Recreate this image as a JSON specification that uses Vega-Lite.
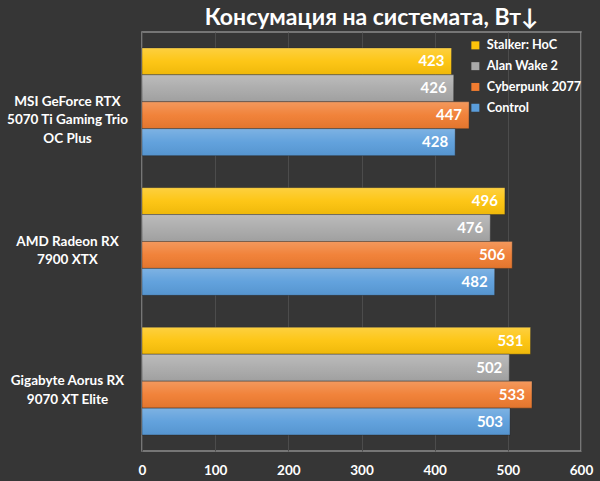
{
  "$schema": "https://vega.github.io/schema/vega-lite/v6.json",
  "width": 439,
  "height": 419,
  "autosize": {"type": "none"},
  "padding": {"left": 142, "top": 32, "right": 19, "bottom": 30},
  "background": "#363636",
  "title": {
    "text": "Консумация на системата, Вт↓",
    "font": "Lato",
    "fontSize": 23,
    "fontWeight": "bold",
    "color": "#ffffff",
    "anchor": "middle",
    "dx": 10,
    "offset": 2
  },
  "config": {
    "view": {"stroke": "#8c8c8c", "strokeWidth": 1.5},
    "font": "Lato"
  },
  "data": {
    "values": [
      {"gpu": "MSI GeForce RTX|5070 Ti Gaming Trio|OC Plus", "game": "Stalker: HoC", "value": 423},
      {"gpu": "MSI GeForce RTX|5070 Ti Gaming Trio|OC Plus", "game": "Alan Wake 2", "value": 426},
      {"gpu": "MSI GeForce RTX|5070 Ti Gaming Trio|OC Plus", "game": "Cyberpunk 2077", "value": 447},
      {"gpu": "MSI GeForce RTX|5070 Ti Gaming Trio|OC Plus", "game": "Control", "value": 428},
      {"gpu": "AMD Radeon RX|7900 XTX", "game": "Stalker: HoC", "value": 496},
      {"gpu": "AMD Radeon RX|7900 XTX", "game": "Alan Wake 2", "value": 476},
      {"gpu": "AMD Radeon RX|7900 XTX", "game": "Cyberpunk 2077", "value": 506},
      {"gpu": "AMD Radeon RX|7900 XTX", "game": "Control", "value": 482},
      {"gpu": "Gigabyte Aorus RX|9070 XT Elite", "game": "Stalker: HoC", "value": 531},
      {"gpu": "Gigabyte Aorus RX|9070 XT Elite", "game": "Alan Wake 2", "value": 502},
      {"gpu": "Gigabyte Aorus RX|9070 XT Elite", "game": "Cyberpunk 2077", "value": 533},
      {"gpu": "Gigabyte Aorus RX|9070 XT Elite", "game": "Control", "value": 503}
    ]
  },
  "encoding": {
    "y": {
      "field": "gpu",
      "type": "nominal",
      "sort": null,
      "scale": {"paddingInner": 0.229, "paddingOuter": 0.114},
      "axis": {
        "title": null,
        "domain": false,
        "ticks": false,
        "labelExpr": "split(datum.label, '|')",
        "labelAlign": "center",
        "labelBaseline": "middle",
        "labelPadding": 75,
        "labelLineHeight": 18.5,
        "labelFont": "Lato",
        "labelFontSize": 13.5,
        "labelFontWeight": "bold",
        "labelColor": "#ffffff"
      }
    },
    "yOffset": {
      "field": "game",
      "type": "nominal",
      "sort": ["Stalker: HoC", "Alan Wake 2", "Cyberpunk 2077", "Control"],
      "scale": {"paddingInner": 0, "paddingOuter": 0}
    },
    "x": {
      "field": "value",
      "type": "quantitative",
      "scale": {"domain": [0, 600], "nice": false},
      "axis": {
        "title": null,
        "values": [0, 100, 200, 300, 400, 500, 600],
        "domain": false,
        "ticks": false,
        "labelFlush": false,
        "labelPadding": 12,
        "labelFont": "Lato",
        "labelFontSize": 13.5,
        "labelFontWeight": "bold",
        "labelColor": "#ffffff",
        "gridColor": "#4c4c4c",
        "gridWidth": 1
      }
    }
  },
  "layer": [
    {
      "mark": {"type": "bar", "stroke": "#2a2a2a", "strokeWidth": 0.6, "strokeOpacity": 0.7},
      "encoding": {
        "color": {
          "field": "game",
          "type": "nominal",
          "sort": ["Stalker: HoC", "Alan Wake 2", "Cyberpunk 2077", "Control"],
          "scale": {
            "domain": ["Stalker: HoC", "Alan Wake 2", "Cyberpunk 2077", "Control"],
            "range": ["#FDC30A", "#A9A9A9", "#F07C30", "#5A9DDB"]
          },
          "legend": {
            "title": null,
            "orient": "none",
            "legendX": 327,
            "legendY": 7,
            "padding": 0,
            "symbolType": "square",
            "symbolSize": 64,
            "symbolStrokeWidth": 0,
            "symbolOpacity": 1,
            "labelOffset": 5,
            "rowPadding": 6.8,
            "labelFont": "Lato",
            "labelFontSize": 12.7,
            "labelFontWeight": "bold",
            "labelColor": "#ffffff"
          }
        }
      }
    },
    {
      "mark": {
        "type": "bar",
        "fill": {
          "gradient": "linear",
          "x1": 0, "y1": 0, "x2": 0, "y2": 1,
          "stops": [
            {"offset": 0, "color": "rgba(255,255,255,0.22)"},
            {"offset": 0.5, "color": "rgba(255,255,255,0.05)"},
            {"offset": 1, "color": "rgba(0,0,0,0.06)"}
          ]
        }
      },
      "encoding": {}
    },
    {
      "mark": {
        "type": "text",
        "align": "right",
        "baseline": "middle",
        "dx": -7,
        "font": "Lato",
        "fontSize": 15,
        "fontWeight": "bold",
        "color": "#ffffff"
      },
      "encoding": {
        "text": {"field": "value", "type": "quantitative"}
      }
    }
  ]
}
